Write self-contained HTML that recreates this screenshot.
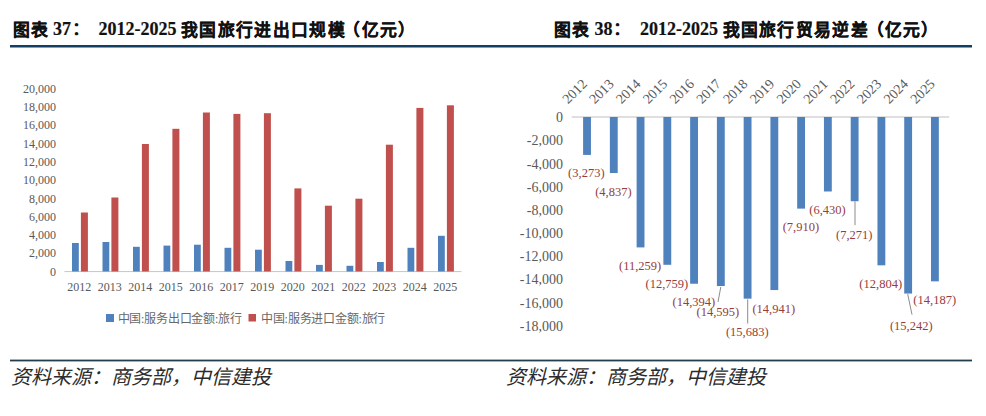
<!DOCTYPE html>
<html lang="zh-CN"><head><meta charset="utf-8">
<style>
html,body{margin:0;padding:0;background:#fff;}
body{width:986px;height:416px;overflow:hidden;position:relative;}
svg{position:absolute;left:0;top:0;}
.ser{font-family:"Liberation Serif",serif;}
.san{font-family:"Liberation Sans",sans-serif;}
</style></head><body>
<svg width="986" height="416" viewBox="0 0 986 416">

<rect x="10" y="45" width="962" height="2.5" fill="#143F64"/>
<rect x="10" y="359.6" width="962" height="1.8" fill="#243E4C"/>
<text x="12.7" y="35.7" font-size="16.8" font-weight="bold" fill="#111" stroke="#111" stroke-width="0.25" class="san" style="letter-spacing:1.3px">图表</text><text x="53" y="34.8" font-size="18" font-weight="bold" fill="#111" stroke="#111" stroke-width="0.2" class="ser">37</text><text x="72" y="34.8" font-size="18" font-weight="bold" fill="#111" class="san">：</text><text x="98.5" y="34.8" font-size="18" font-weight="bold" fill="#111" stroke="#111" stroke-width="0.2" class="ser">2012-2025</text><text x="181.2" y="35.7" font-size="16.8" font-weight="bold" fill="#111" stroke="#111" stroke-width="0.25" class="san" style="letter-spacing:1.3px">我国旅行进出口规模<tspan dx="-2.5">（亿元）</tspan></text>
<text x="554.1" y="35.7" font-size="16.8" font-weight="bold" fill="#111" stroke="#111" stroke-width="0.25" class="san" style="letter-spacing:1.3px">图表</text><text x="594.4" y="34.8" font-size="18" font-weight="bold" fill="#111" stroke="#111" stroke-width="0.2" class="ser">38</text><text x="613.4" y="34.8" font-size="18" font-weight="bold" fill="#111" class="san">：</text><text x="639.9" y="34.8" font-size="18" font-weight="bold" fill="#111" stroke="#111" stroke-width="0.2" class="ser">2012-2025</text><text x="722.5999999999999" y="35.7" font-size="16.8" font-weight="bold" fill="#111" stroke="#111" stroke-width="0.25" class="san" style="letter-spacing:1.3px">我国旅行贸易逆差<tspan dx="-2.5">（亿元）</tspan></text>
<text x="11" y="384.2" font-size="20" font-style="italic" fill="#2b2b2b" class="ser">资料来源：商务部，中信建投</text>
<text x="506" y="384.2" font-size="20" font-style="italic" fill="#2b2b2b" class="ser">资料来源：商务部，中信建投</text>
<rect x="64.5" y="271" width="397.0" height="1.1" fill="#CACACA"/>
<text x="56" y="275.60" font-size="12" fill="#595959" text-anchor="end" class="ser">0</text>
<text x="56" y="257.33" font-size="12" fill="#595959" text-anchor="end" class="ser">2,000</text>
<text x="56" y="239.06" font-size="12" fill="#595959" text-anchor="end" class="ser">4,000</text>
<text x="56" y="220.79" font-size="12" fill="#595959" text-anchor="end" class="ser">6,000</text>
<text x="56" y="202.52" font-size="12" fill="#595959" text-anchor="end" class="ser">8,000</text>
<text x="56" y="184.25" font-size="12" fill="#595959" text-anchor="end" class="ser">10,000</text>
<text x="56" y="165.98" font-size="12" fill="#595959" text-anchor="end" class="ser">12,000</text>
<text x="56" y="147.71" font-size="12" fill="#595959" text-anchor="end" class="ser">14,000</text>
<text x="56" y="129.44" font-size="12" fill="#595959" text-anchor="end" class="ser">16,000</text>
<text x="56" y="111.17" font-size="12" fill="#595959" text-anchor="end" class="ser">18,000</text>
<text x="56" y="92.90" font-size="12" fill="#595959" text-anchor="end" class="ser">20,000</text>
<rect x="72.00" y="243" width="6.8" height="28.50" fill="#4F81BD"/>
<rect x="80.90" y="212.5" width="7" height="59.00" fill="#C0504D"/>
<text x="79.20" y="290.8" font-size="12" fill="#595959" text-anchor="middle" class="ser">2012</text>
<rect x="102.50" y="242" width="6.8" height="29.50" fill="#4F81BD"/>
<rect x="111.40" y="197.5" width="7" height="74.00" fill="#C0504D"/>
<text x="109.70" y="290.8" font-size="12" fill="#595959" text-anchor="middle" class="ser">2013</text>
<rect x="133.00" y="246.8" width="6.8" height="24.70" fill="#4F81BD"/>
<rect x="141.90" y="144" width="7" height="127.50" fill="#C0504D"/>
<text x="140.20" y="290.8" font-size="12" fill="#595959" text-anchor="middle" class="ser">2014</text>
<rect x="163.50" y="245.6" width="6.8" height="25.90" fill="#4F81BD"/>
<rect x="172.40" y="128.8" width="7" height="142.70" fill="#C0504D"/>
<text x="170.70" y="290.8" font-size="12" fill="#595959" text-anchor="middle" class="ser">2015</text>
<rect x="194.00" y="244.7" width="6.8" height="26.80" fill="#4F81BD"/>
<rect x="202.90" y="112.5" width="7" height="159.00" fill="#C0504D"/>
<text x="201.20" y="290.8" font-size="12" fill="#595959" text-anchor="middle" class="ser">2016</text>
<rect x="224.50" y="247.8" width="6.8" height="23.70" fill="#4F81BD"/>
<rect x="233.40" y="113.9" width="7" height="157.60" fill="#C0504D"/>
<text x="231.70" y="290.8" font-size="12" fill="#595959" text-anchor="middle" class="ser">2017</text>
<rect x="255.00" y="249.7" width="6.8" height="21.80" fill="#4F81BD"/>
<rect x="263.90" y="113.2" width="7" height="158.30" fill="#C0504D"/>
<text x="262.20" y="290.8" font-size="12" fill="#595959" text-anchor="middle" class="ser">2019</text>
<rect x="285.50" y="261" width="6.8" height="10.50" fill="#4F81BD"/>
<rect x="294.40" y="188.4" width="7" height="83.10" fill="#C0504D"/>
<text x="292.70" y="290.8" font-size="12" fill="#595959" text-anchor="middle" class="ser">2020</text>
<rect x="316.00" y="264.9" width="6.8" height="6.60" fill="#4F81BD"/>
<rect x="324.90" y="205.7" width="7" height="65.80" fill="#C0504D"/>
<text x="323.20" y="290.8" font-size="12" fill="#595959" text-anchor="middle" class="ser">2021</text>
<rect x="346.50" y="265.8" width="6.8" height="5.70" fill="#4F81BD"/>
<rect x="355.40" y="198.7" width="7" height="72.80" fill="#C0504D"/>
<text x="353.70" y="290.8" font-size="12" fill="#595959" text-anchor="middle" class="ser">2022</text>
<rect x="377.00" y="262" width="6.8" height="9.50" fill="#4F81BD"/>
<rect x="385.90" y="144.7" width="7" height="126.80" fill="#C0504D"/>
<text x="384.20" y="290.8" font-size="12" fill="#595959" text-anchor="middle" class="ser">2023</text>
<rect x="407.50" y="247.8" width="6.8" height="23.70" fill="#4F81BD"/>
<rect x="416.40" y="107.9" width="7" height="163.60" fill="#C0504D"/>
<text x="414.70" y="290.8" font-size="12" fill="#595959" text-anchor="middle" class="ser">2024</text>
<rect x="438.00" y="235.8" width="6.8" height="35.70" fill="#4F81BD"/>
<rect x="446.90" y="105.3" width="7" height="166.20" fill="#C0504D"/>
<text x="445.20" y="290.8" font-size="12" fill="#595959" text-anchor="middle" class="ser">2025</text>
<rect x="106" y="314" width="8" height="8" fill="#4F81BD"/>
<rect x="248.5" y="314" width="7.5" height="7.5" fill="#C0504D"/>
<text x="117.5" y="322.5" font-size="12" fill="#686868" class="ser" style="letter-spacing:-0.2px">中国:服务出口金额:旅行</text>
<text x="261" y="322.5" font-size="12" fill="#686868" class="ser" style="letter-spacing:-0.2px">中国:服务进口金额:旅行</text>
<rect x="571.7" y="116.4" width="377.5" height="1.2" fill="#CACACA"/>
<text x="563" y="122.20" font-size="14" fill="#595959" text-anchor="end" class="ser">0</text>
<text x="563" y="145.37" font-size="14" fill="#595959" text-anchor="end" class="ser">-2,000</text>
<text x="563" y="168.54" font-size="14" fill="#595959" text-anchor="end" class="ser">-4,000</text>
<text x="563" y="191.71" font-size="14" fill="#595959" text-anchor="end" class="ser">-6,000</text>
<text x="563" y="214.88" font-size="14" fill="#595959" text-anchor="end" class="ser">-8,000</text>
<text x="563" y="238.05" font-size="14" fill="#595959" text-anchor="end" class="ser">-10,000</text>
<text x="563" y="261.22" font-size="14" fill="#595959" text-anchor="end" class="ser">-12,000</text>
<text x="563" y="284.39" font-size="14" fill="#595959" text-anchor="end" class="ser">-14,000</text>
<text x="563" y="307.56" font-size="14" fill="#595959" text-anchor="end" class="ser">-16,000</text>
<text x="563" y="330.73" font-size="14" fill="#595959" text-anchor="end" class="ser">-18,000</text>
<rect x="583.10" y="117" width="7.85" height="37.91" fill="#4F81BD"/>
<text transform="translate(587.90,84.8) rotate(-45)" font-size="14" fill="#595959" text-anchor="end" class="ser">2012</text>
<rect x="609.86" y="117" width="7.85" height="56.03" fill="#4F81BD"/>
<text transform="translate(614.66,84.8) rotate(-45)" font-size="14" fill="#595959" text-anchor="end" class="ser">2013</text>
<rect x="636.62" y="117" width="7.85" height="130.41" fill="#4F81BD"/>
<text transform="translate(641.42,84.8) rotate(-45)" font-size="14" fill="#595959" text-anchor="end" class="ser">2014</text>
<rect x="663.38" y="117" width="7.85" height="147.79" fill="#4F81BD"/>
<text transform="translate(668.18,84.8) rotate(-45)" font-size="14" fill="#595959" text-anchor="end" class="ser">2015</text>
<rect x="690.14" y="117" width="7.85" height="166.73" fill="#4F81BD"/>
<text transform="translate(694.94,84.8) rotate(-45)" font-size="14" fill="#595959" text-anchor="end" class="ser">2016</text>
<rect x="716.90" y="117" width="7.85" height="169.05" fill="#4F81BD"/>
<text transform="translate(721.70,84.8) rotate(-45)" font-size="14" fill="#595959" text-anchor="end" class="ser">2017</text>
<rect x="743.66" y="117" width="7.85" height="181.66" fill="#4F81BD"/>
<text transform="translate(748.46,84.8) rotate(-45)" font-size="14" fill="#595959" text-anchor="end" class="ser">2018</text>
<rect x="770.42" y="117" width="7.85" height="173.06" fill="#4F81BD"/>
<text transform="translate(775.22,84.8) rotate(-45)" font-size="14" fill="#595959" text-anchor="end" class="ser">2019</text>
<rect x="797.18" y="117" width="7.85" height="91.62" fill="#4F81BD"/>
<text transform="translate(801.98,84.8) rotate(-45)" font-size="14" fill="#595959" text-anchor="end" class="ser">2020</text>
<rect x="823.94" y="117" width="7.85" height="74.48" fill="#4F81BD"/>
<text transform="translate(828.74,84.8) rotate(-45)" font-size="14" fill="#595959" text-anchor="end" class="ser">2021</text>
<rect x="850.70" y="117" width="7.85" height="84.22" fill="#4F81BD"/>
<text transform="translate(855.50,84.8) rotate(-45)" font-size="14" fill="#595959" text-anchor="end" class="ser">2022</text>
<rect x="877.46" y="117" width="7.85" height="148.31" fill="#4F81BD"/>
<text transform="translate(882.26,84.8) rotate(-45)" font-size="14" fill="#595959" text-anchor="end" class="ser">2023</text>
<rect x="904.22" y="117" width="7.85" height="176.55" fill="#4F81BD"/>
<text transform="translate(909.02,84.8) rotate(-45)" font-size="14" fill="#595959" text-anchor="end" class="ser">2024</text>
<rect x="930.98" y="117" width="7.85" height="164.33" fill="#4F81BD"/>
<text transform="translate(935.78,84.8) rotate(-45)" font-size="14" fill="#595959" text-anchor="end" class="ser">2025</text>
<text x="586.35" y="177.1" font-size="12.5" fill="#963C3A" text-anchor="middle" class="ser">(3,273)</text>
<text x="613.4" y="195.5" font-size="12.5" fill="#963C3A" text-anchor="middle" class="ser">(4,837)</text>
<text x="640.1" y="270.1" font-size="12.5" fill="#963C3A" text-anchor="middle" class="ser">(11,259)</text>
<text x="666.9" y="287.5" font-size="12.5" fill="#963C3A" text-anchor="middle" class="ser">(12,759)</text>
<text x="693.9" y="306.4" font-size="12.5" fill="#963C3A" text-anchor="middle" class="ser">(14,394)</text>
<text x="717.9" y="315.8" font-size="12.5" fill="#963C3A" text-anchor="middle" class="ser">(14,595)</text>
<text x="747.3" y="336" font-size="12.5" fill="#963C3A" text-anchor="middle" class="ser">(15,683)</text>
<text x="773.8" y="312.5" font-size="12.5" fill="#963C3A" text-anchor="middle" class="ser">(14,941)</text>
<text x="800.9" y="231.3" font-size="12.5" fill="#963C3A" text-anchor="middle" class="ser">(7,910)</text>
<text x="827.5" y="214.2" font-size="12.5" fill="#963C3A" text-anchor="middle" class="ser">(6,430)</text>
<text x="854.2" y="239" font-size="12.5" fill="#963C3A" text-anchor="middle" class="ser">(7,271)</text>
<text x="880.7" y="288" font-size="12.5" fill="#963C3A" text-anchor="middle" class="ser">(12,804)</text>
<text x="911.3" y="330" font-size="12.5" fill="#963C3A" text-anchor="middle" class="ser">(15,242)</text>
<text x="934.7" y="304" font-size="12.5" fill="#963C3A" text-anchor="middle" class="ser">(14,187)</text>
<line x1="720.8" y1="287" x2="718" y2="302" stroke="#8C8C8C" stroke-width="1"/>
<line x1="747.7" y1="299.4" x2="747.7" y2="323.5" stroke="#8C8C8C" stroke-width="1"/>
<line x1="855" y1="201.2" x2="855" y2="225.2" stroke="#8C8C8C" stroke-width="1"/>
<line x1="907.7" y1="294.1" x2="912" y2="314.6" stroke="#8C8C8C" stroke-width="1"/>
</svg></body></html>
